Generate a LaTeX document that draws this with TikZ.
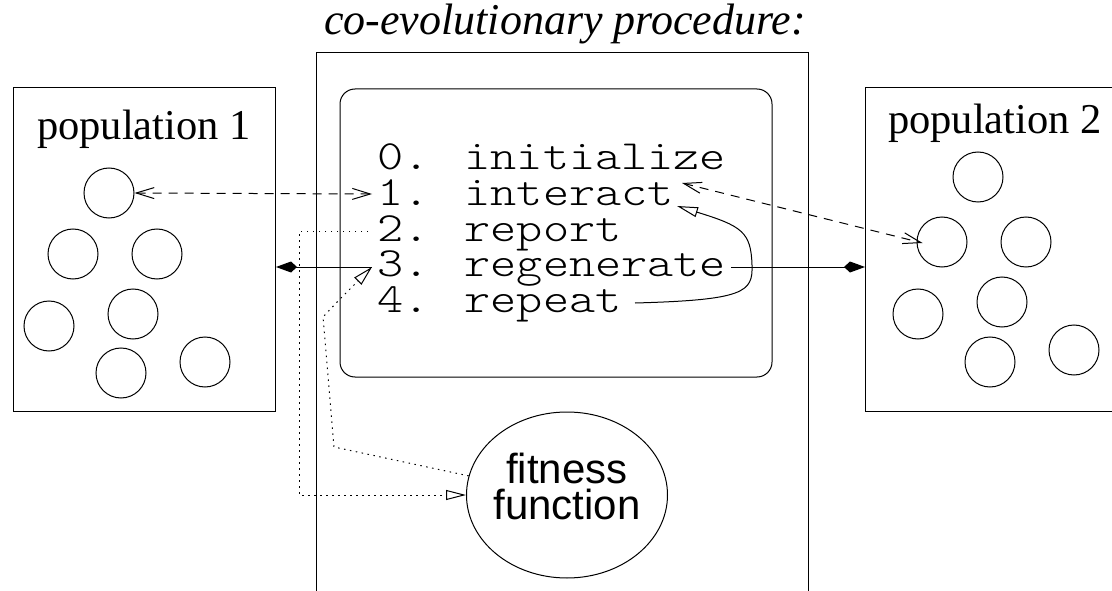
\documentclass[tikz,border=0pt]{standalone}
\usepackage{fontspec}
\setmainfont{Liberation Serif}
\newfontfamily\codefont{lmmonolt10-regular.otf}[FakeStretch=1.2]
\newfontfamily\helvfont{Liberation Sans}
\usetikzlibrary{arrows.meta,shapes.geometric}
\begin{document}
\begin{tikzpicture}[x=1pt,y=-1pt,line width=1pt,
  pop/.style={circle,draw,minimum size=50pt,inner sep=0pt},
  popbox/.style={draw,minimum width=262pt,minimum height=324pt,anchor=north west,inner sep=0pt},
  codeline/.style={anchor=base west,inner sep=0pt,font=\codefont\fontsize{41.5}{42}\selectfont},
  poplabel/.style={anchor=base,inner sep=0pt,font=\fontsize{42.5}{44}\selectfont},
  titlelabel/.style={anchor=base,inner sep=0pt,font=\itshape\fontsize{44}{46}\selectfont},
  fitlabel/.style={align=center,inner sep=0pt,font=\helvfont\fontsize{42}{36}\selectfont},
  dasharrow/.style={dash pattern=on 9pt off 7pt,{Straight Barb[length=18pt,width=11pt]}-{Straight Barb[length=18pt,width=11pt]}},
  dotarrow/.style={dash pattern=on 1.5pt off 4.5pt,-{Triangle[open,length=20pt,width=10pt]}},
  solidarrow/.style={-{Kite[length=21pt,width=11pt,inset=6pt]}},
  looparrow/.style={-{Triangle[open,length=21pt,width=10pt]}}
]
\useasboundingbox (0,0) rectangle (1112,591);
\clip (0,0) rectangle (1112,591);

% title
\node[titlelabel] (title) at (565,35) {co-evolutionary procedure:};

% outer procedure box (open at the bottom)
\draw (316,600) -- (316,53) -- (808,53) -- (808,600);
% inner rounded box
\draw[rounded corners=15pt] (340,89) rectangle (772,377);

% population boxes
\node[popbox] (box1) at (13,87) {};
\node[popbox,minimum width=270pt] (box2) at (865,87) {};
\node[poplabel] (pop1) at (144,140) {population 1};
\node[poplabel] (pop2) at (995,134) {population 2};

% population 1 individuals
\node[pop] (p1a) at (109,193) {};
\node[pop] (p1b) at (73,254) {};
\node[pop] (p1c) at (157,254) {};
\node[pop] (p1d) at (133,314) {};
\node[pop] (p1e) at (49,326) {};
\node[pop] (p1f) at (121,373) {};
\node[pop] (p1g) at (205,362) {};

% population 2 individuals
\node[pop] (p2a) at (978,177) {};
\node[pop] (p2b) at (942,242) {};
\node[pop] (p2c) at (1026,242) {};
\node[pop] (p2d) at (1002,302) {};
\node[pop] (p2e) at (918,314) {};
\node[pop] (p2f) at (990,362) {};
\node[pop] (p2g) at (1074,350) {};

% procedure steps
\node[codeline] (l0) at (377,170) {0. initialize};
\node[codeline] (l1) at (377,205.5) {1. interact};
\node[codeline] (l2) at (377,241) {2. report};
\node[codeline] (l3) at (377,276.5) {3. regenerate};
\node[codeline] (l4) at (377,312) {4. repeat};

% fitness function
\node[ellipse,draw,minimum width=201pt,minimum height=166pt,inner sep=0pt] (fit) at (567,495) {};
\node[fitlabel] (fittext) at (567,486) {fitness\\function};

% connector end points next to the step numbers
\coordinate (c1) at (372,194);
\coordinate (c2) at (368,231);
\coordinate (c3) at (372,267);
\coordinate (c3r) at (731,267);
\coordinate (i1) at (682,183);
\coordinate (r1) at (677,206);
\coordinate (r4) at (635,303);

% interact arrows
\draw[dasharrow] (p1a.east) -- (c1);
\draw[dasharrow] (i1) -- ([shift={(6,1)}]p2b.west);

% regenerate arrows
\draw[solidarrow] (c3) -- (box1.east |- c3);
\draw[solidarrow] (c3r) -- (box2.west |- c3r);

% repeat loop
\draw[looparrow] (r4) .. controls (745,300) and (753,292) .. (752,265)
  .. controls (751,232) and (742,226) .. (r1);

% fitness function arrows
\draw[dotarrow] (c2) -- ++(-69,0) |- (fit.west);
\draw[dotarrow] (fit.169) -- (334,447) -- (323,317) -- (339,300) -- (c3);
\end{tikzpicture}
\end{document}
